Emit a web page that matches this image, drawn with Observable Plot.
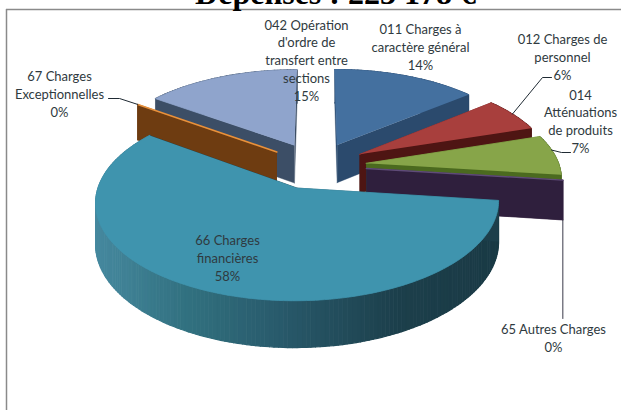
<!DOCTYPE html>
<html lang="fr">
<head>
<meta charset="utf-8">
<script src="https://cdn.jsdelivr.net/npm/d3@7"></script>
<script src="https://cdn.jsdelivr.net/npm/@observablehq/plot@0.6"></script>
<style>html,body{margin:0;padding:0;background:#fff;overflow:hidden}svg{display:block}</style>
</head>
<body>
<div id="chart"></div>
<script>
// Data
const chartTitle = "Dépenses : 223 178 €";
const categories = ["011 Charges à\ncaractère général","012 Charges de\npersonnel","014\nAtténuations\nde produits","65 Autres Charges","66 Charges\nfinancières","67 Charges\nExceptionnelles","042 Opération\nd'ordre de\ntransfert entre\nsections"];
const shares = [14,6,7,0,58,0,15];

// Colours per category
const topColors  = ["#44709f","#a83f3d","#87a549","#5f4b78","#3f94ae","#e8913c","#8fa4cc"];
const faceColors = ["#2b4a6d","#4e1513","#4b6a1f","#2f1f3d","#1d3f4b","#6e3c11","#3c4e66"];
const wallStops  = ["#46899f","#31707f","#28596a","#1c3f4b","#1a3a45"];

// Layout of the label blocks, in chart pixels
const labelX = [420,562,580,553,227,59,306];
const labelY = [46,56,120,337,257,93,59];

// 3D projection of the exploded pie
const cx = 316, cy = 165, radius = 193, explode = 50, tilt = 0.47, persp = 0.0007, depth = 39;
const project = (X, Y, z = 0) => {
  const s = 1 / (1 + persp * Y);
  return {x: cx + X * s, y: cy - Y * tilt * s + z * s};
};

// Angles from the shares, clockwise from 12 o'clock
const total = d3.sum(shares);
let run = 0;
const slices = shares.map((v, i) => {
  const a0 = run / total * 2 * Math.PI;
  run += v;
  const a1 = run / total * 2 * Math.PI;
  const mid = (a0 + a1) / 2;
  return {i, a0, a1, ax: explode * Math.sin(mid), ay: explode * Math.cos(mid)};
});
const rim = (sl, t, z = 0) => project(sl.ax + radius * Math.sin(t), sl.ay + radius * Math.cos(t), z);
const apex = (sl, z = 0) => project(sl.ax, sl.ay, z);
const arc = (sl, z = 0) => {
  const n = Math.max(1, Math.ceil((sl.a1 - sl.a0) / 0.02));
  return d3.range(n + 1).map(k => rim(sl, sl.a0 + (sl.a1 - sl.a0) * k / n, z));
};

const poly = (points, fill, strokeWidth = 0.4) => Plot.line(points, {x: "x", y: "y", fill, stroke: fill, strokeWidth, curve: "linear"});
const wallColor = d3.scaleLinear().domain([95, 190, 285, 400, 500]).range(wallStops).clamp(true);

function sliceMarks(i) {
  const sl = slices[i], marks = [];
  // outer wall
  const top = arc(sl), low = arc(sl, depth);
  for (let k = 0; k + 1 < top.length; k++) {
    const fill = i === 4 ? wallColor(top[k].x) : faceColors[i];
    marks.push(poly([top[k], top[k + 1], low[k + 1], low[k]], fill, 1.2));
  }
  // cut faces
  const faceOf = t => [apex(sl), rim(sl, t), rim(sl, t, depth), apex(sl, depth)];
  marks.push(poly(faceOf(sl.a0), faceColors[i]));
  marks.push(poly(faceOf(sl.a1), faceColors[i]));
  // top surface
  if (shares[i] > 0) marks.push(poly([apex(sl), ...top], topColors[i], 0.8));
  else marks.push(Plot.line([apex(sl), rim(sl, sl.a0)], {x: "x", y: "y", stroke: topColors[i], strokeWidth: 1.5}));
  return marks;
}

const paintOrder = [6, 0, 5, 1, 2, 3, 4];

const labels = categories.map((c, i) => ({text: `${c}\n${shares[i]}%`, x: labelX[i], y: labelY[i]}));

// Leader lines: from the label block to the rim of the slice
const leaderOf = (i, t, elbowX, elbowY, endX) => [{x: endX, y: elbowY}, {x: elbowX, y: elbowY}, t];
const leaders = [
  leaderOf(1, rim(slices[1], 1.06), 542, 77, 551),
  leaderOf(2, rim(slices[2], 1.42), 561, 152, 570),
  leaderOf(5, rim(slices[5], slices[5].a0), 119, 98, 108)
];
const leader65 = [rim(slices[3], slices[3].a0, depth), {x: rim(slices[3], slices[3].a0, depth).x, y: 318}];

const chart = Plot.plot({
  width: 621, height: 410,
  marginTop: 0, marginRight: 0, marginBottom: 0, marginLeft: 0,
  x: {domain: [0, 621], range: [0, 621], axis: null},
  y: {domain: [0, 410], range: [0, 410], axis: null},
  style: {background: "#fff"},
  marks: [
    Plot.ruleX([6], {y1: 9, y2: 410, stroke: "#8a8a8a", strokeWidth: 1.5}),
    Plot.ruleY([9], {x1: 6, x2: 621, stroke: "#8a8a8a", strokeWidth: 1.5}),
    Plot.text([chartTitle], {x: () => 335, y: () => 3, text: d => d, lineAnchor: "bottom", fontFamily: "Liberation Serif", fontWeight: "bold", fontSize: 32, fill: "#000"}),
    ...paintOrder.flatMap(sliceMarks),
    ...leaders.map(l => Plot.line(l, {x: "x", y: "y", stroke: "#1f2a33", strokeWidth: 1})),
    Plot.line(leader65, {x: "x", y: "y", stroke: "#3a3a4a", strokeWidth: 1}),
    Plot.text(labels, {x: "x", y: "y", text: "text", fontFamily: "Lato", fontSize: 13, lineHeight: 1.36, fill: "#2f3a40", textAnchor: "middle"})
  ]
});
document.getElementById("chart").append(chart);
</script>
</body>
</html>
